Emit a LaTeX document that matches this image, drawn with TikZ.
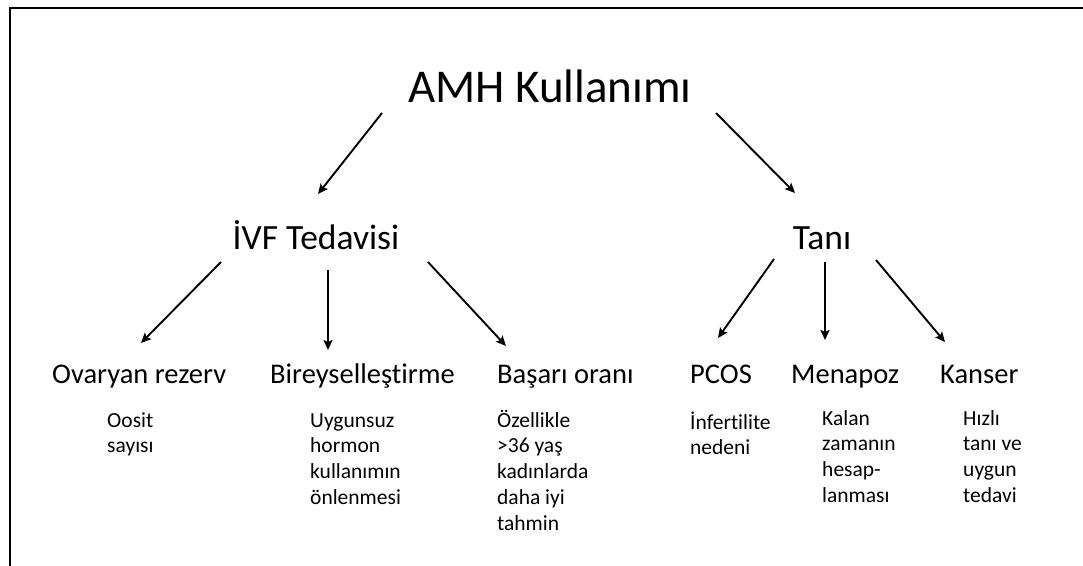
\documentclass[tikz,border=0pt]{standalone}
\usepackage{fontspec}
\setmainfont{Carlito}[Ligatures=CommonOff]
\usetikzlibrary{arrows.meta}
\newcommand{\lines}[1]{\begin{tabular}[t]{@{}l@{}}#1\end{tabular}}
\begin{document}
\begin{tikzpicture}[x=1pt,y=-1pt,
  arr/.style={line width=1.9pt,-{Stealth[length=10pt,width=9pt,inset=2pt]}},
  title/.style={inner sep=0pt,anchor=base,font=\fontsize{47}{56}\selectfont},
  lvtwo/.style={inner sep=0pt,anchor=base,font=\fontsize{35.5}{42}\selectfont},
  lvthree/.style={inner sep=0pt,anchor=base west,font=\fontsize{28.5}{34}\selectfont},
  lvfour/.style={inner sep=0pt,anchor=base west,font=\fontsize{21.5}{25.8}\selectfont}]
\useasboundingbox (0,0) rectangle (1083,565);
\draw[line width=1.5pt] (10,566) -- (10,8) -- (1084,8);

\node[title] (amh) at (550,102) {AMH Kullanımı};
\node[lvtwo] (ivf) at (316,249) {İVF Tedavisi};
\node[lvtwo] (tani) at (822,249) {Tanı};

\node[lvthree] (ova) at (52,383) {Ovaryan rezerv};
\node[lvthree] (bir) at (270,383) {Bireyselleştirme};
\node[lvthree] (bas) at (497,383) {Başarı oranı};
\node[lvthree] (pcos) at (690,383) {PCOS};
\node[lvthree] (men) at (791,383) {Menapoz};
\node[lvthree] (kan) at (940,383) {Kanser};

\node[lvfour] (d1) at (107,427) {\lines{Oosit\\sayısı}};
\node[lvfour] (d2) at (310,427) {\lines{Uygunsuz\\hormon\\kullanımın\\önlenmesi}};
\node[lvfour] (d3) at (497,427) {\lines{Özellikle\\>36 yaş\\kadınlarda\\daha iyi\\tahmin}};
\node[lvfour] (d4) at (690,429) {\lines{İnfertilite\\nedeni}};
\node[lvfour] (d5) at (822,425) {\lines{Kalan\\zamanın\\hesap-\\lanması}};
\node[lvfour] (d6) at (963,425) {\lines{Hızlı\\tanı ve\\uygun\\tedavi}};

\coordinate (a1s) at (382,113); \coordinate (a1e) at (318,194);
\coordinate (a2s) at (716,113); \coordinate (a2e) at (795,193);
\coordinate (b1s) at (221,262); \coordinate (b1e) at (141,343);
\coordinate (b2s) at (328,270); \coordinate (b2e) at (328,350);
\coordinate (b3s) at (428,262); \coordinate (b3e) at (506,346);
\coordinate (c1s) at (774,259); \coordinate (c1e) at (718,338);
\coordinate (c2s) at (825,262); \coordinate (c2e) at (825,340);
\coordinate (c3s) at (876,260); \coordinate (c3e) at (945,342);

\draw[arr] (a1s) -- (a1e);
\draw[arr] (a2s) -- (a2e);
\draw[arr] (b1s) -- (b1e);
\draw[arr] (b2s) -- (b2e);
\draw[arr] (b3s) -- (b3e);
\draw[arr] (c1s) -- (c1e);
\draw[arr] (c2s) -- (c2e);
\draw[arr] (c3s) -- (c3e);
\end{tikzpicture}
\end{document}
